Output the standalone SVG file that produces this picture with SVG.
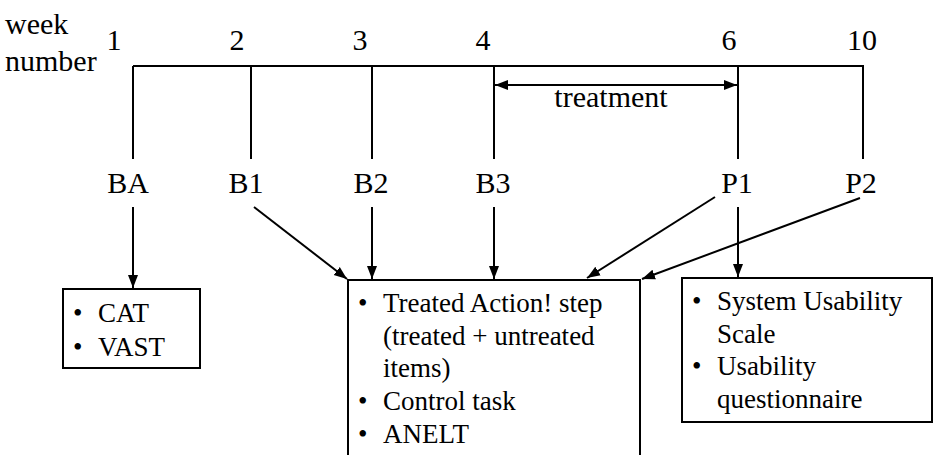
<svg xmlns="http://www.w3.org/2000/svg" width="933" height="455" viewBox="0 0 933 455" font-family="'Liberation Serif', 'Times New Roman', Tinos, 'DejaVu Serif', serif">
<style>
text{font-family:'Liberation Serif','Times New Roman',Tinos,'DejaVu Serif',serif;fill:#000}
.t{font-size:30px}
.b{font-size:27px}
.m{text-anchor:middle}
.ln{stroke:#000;stroke-width:2;fill:none}
.bx{stroke:#000;stroke-width:2;fill:#fff}
</style>
<defs>
<marker id="ah" markerUnits="userSpaceOnUse" markerWidth="14" markerHeight="12" viewBox="0 0 14 12" refX="13" refY="6" orient="auto-start-reverse">
<path d="M0,1 L13,6 L0,11 Z" fill="#000"/>
</marker>
</defs>
<g id="axis-label">
<text class="t" x="5" y="34">week</text>
<text class="t" x="5" y="71">number</text>
</g>
<g id="timeline">
<line class="ln" x1="133" y1="66" x2="864" y2="66"/>
<text class="t m" x="114" y="50">1</text>
<text class="t m" x="237" y="50">2</text>
<text class="t m" x="360" y="50">3</text>
<text class="t m" x="483" y="50">4</text>
<text class="t m" x="729" y="50">6</text>
<text class="t m" x="862" y="50">10</text>
</g>
<g id="treatment">
<line class="ln" x1="495" y1="85" x2="737" y2="85" marker-start="url(#ah)" marker-end="url(#ah)"/>
<text class="t m" x="611" y="107">treatment</text>
</g>
<g id="BA"><line class="ln" x1="133" y1="66" x2="133" y2="159"/><text class="t m" x="128" y="193">BA</text></g>
<g id="B1"><line class="ln" x1="251" y1="66" x2="251" y2="159"/><text class="t m" x="246" y="193">B1</text></g>
<g id="B2"><line class="ln" x1="372" y1="66" x2="372" y2="159"/><text class="t m" x="371" y="193">B2</text></g>
<g id="B3"><line class="ln" x1="494" y1="66" x2="494" y2="159"/><text class="t m" x="493" y="193">B3</text></g>
<g id="P1"><line class="ln" x1="738" y1="66" x2="738" y2="159"/><text class="t m" x="737" y="193">P1</text></g>
<g id="P2"><line class="ln" x1="863" y1="66" x2="863" y2="159"/><text class="t m" x="861" y="193">P2</text></g>
<g id="box-baseline">
<rect class="bx" x="63" y="289" width="137" height="79"/>
<text class="b" x="73" y="322">•</text><text class="b" x="98" y="322">CAT</text>
<text class="b" x="73" y="356">•</text><text class="b" x="98" y="356">VAST</text>
</g>
<g id="box-main">
<rect class="bx" x="348" y="280" width="292" height="190"/>
<text class="b" x="358" y="312">•</text><text class="b" x="383" y="312">Treated Action! step</text>
<text class="b" x="383" y="345">(treated + untreated</text>
<text class="b" x="383" y="377">items)</text>
<text class="b" x="358" y="410">•</text><text class="b" x="383" y="410">Control task</text>
<text class="b" x="358" y="443">•</text><text class="b" x="383" y="443">ANELT</text>
</g>
<g id="box-usability">
<rect class="bx" x="682" y="278" width="250" height="144"/>
<text class="b" x="692" y="310">•</text><text class="b" x="717" y="310">System Usability</text>
<text class="b" x="717" y="343">Scale</text>
<text class="b" x="692" y="375">•</text><text class="b" x="717" y="375">Usability</text>
<text class="b" x="717" y="408">questionnaire</text>
</g>
<g id="connectors">
<line class="ln" x1="133" y1="207" x2="133" y2="288" marker-end="url(#ah)"/>
<line class="ln" x1="254" y1="207" x2="347" y2="279" marker-end="url(#ah)"/>
<line class="ln" x1="372" y1="207" x2="372" y2="279" marker-end="url(#ah)"/>
<line class="ln" x1="494" y1="207" x2="494" y2="279" marker-end="url(#ah)"/>
<line class="ln" x1="715" y1="197" x2="587" y2="278" marker-end="url(#ah)"/>
<line class="ln" x1="860" y1="198" x2="642" y2="279" marker-end="url(#ah)"/>
<line class="ln" x1="738" y1="207" x2="738" y2="277" marker-end="url(#ah)"/>
</g>
</svg>
